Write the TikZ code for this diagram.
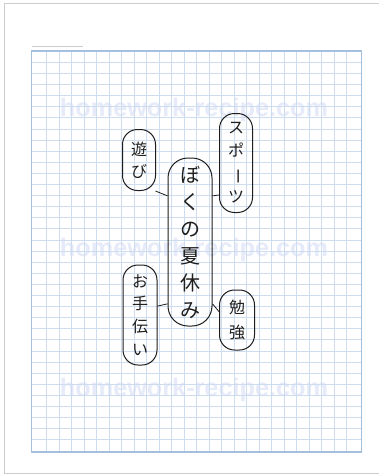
\documentclass[tikz,border=0pt]{standalone}
\usepackage{fontspec}
\usepackage{graphicx}
\newfontfamily\jp{Noto Sans CJK JP}
\newfontfamily\wmfont{Liberation Sans}
\definecolor{gridc}{RGB}{205,220,238}
\definecolor{gridb}{RGB}{165,192,222}
\definecolor{framec}{RGB}{205,205,205}
\definecolor{wmc}{RGB}{230,234,249}
\definecolor{inkc}{RGB}{30,30,30}
\tikzset{
  bub/.style={draw=inkc, line width=1pt, rounded corners=15pt, inner sep=0pt, align=center, font=\jp\fontsize{16}{23}\selectfont, text=inkc},
  link/.style={draw=inkc, line width=0.8pt},
  gridline/.style={draw=gridc, line width=0.7pt},
  wm/.style={text=wmc, font=\wmfont\bfseries, inner sep=0pt}
}
\begin{document}
\begin{tikzpicture}[x=1pt,y=-1pt]
\useasboundingbox (0,0) rectangle (379,475);
\fill[white] (0,0) rectangle (379,475);
% outer frame
\draw[framec, line width=1pt] (379,3.5) -- (4.5,3.5) -- (4.5,473) -- (379,473);
% small line above grid
\draw[framec, line width=1pt] (32,46) -- (83,46);
% watermarks (under the grid)
\node[wm] (w1) at (194,110) {\resizebox{268pt}{!}{homework-recipe.com}};
\node[wm] (w2) at (194,250) {\resizebox{268pt}{!}{homework-recipe.com}};
\node[wm] (w3) at (194,390) {\resizebox{268pt}{!}{homework-recipe.com}};
% grid
\foreach \k in {0,...,24} {
  \draw[gridline] ({46.7+12.5*\k},51) -- ({46.7+12.5*\k},452);
}
\foreach \k in {0,...,34} {
  \draw[gridline] (31.3,{62.3+11.1*\k}) -- (361.7,{62.3+11.1*\k});
}
\draw[gridb, line width=1.2pt] (31.3,51) rectangle (361.7,452);
% bubbles
\node[bub, minimum width=44pt, minimum height=168pt, rounded corners=20pt, font=\jp\fontsize{20}{27}\selectfont] (main) at (190,242) {ぼ\\く\\の\\夏\\休\\み};
\node[bub, minimum width=33pt, minimum height=99pt] (sp) at (236,163) {ス\\ポ\\\rotatebox[origin=c]{-90}{ー}\\ツ};
\node[bub, minimum width=33pt, minimum height=61pt, font=\jp\fontsize{16}{22}\selectfont] (as) at (139,160) {遊\\び};
\node[bub, minimum width=34pt, minimum height=100pt, font=\jp\fontsize{16}{22.7}\selectfont] (ot) at (140,315) {お\\手\\伝\\い};
\node[bub, minimum width=35pt, minimum height=60pt, font=\jp\fontsize{16}{25}\selectfont] (bk) at (237,320) {勉\\強};
% connectors
\draw[link] (as.-62) -- (main.116);
\draw[link] (main.64) -- (sp.-118);
\draw[link] (ot.27) -- (main.-110);
\draw[link] (main.-70) -- (bk.155);
\end{tikzpicture}
\end{document}
